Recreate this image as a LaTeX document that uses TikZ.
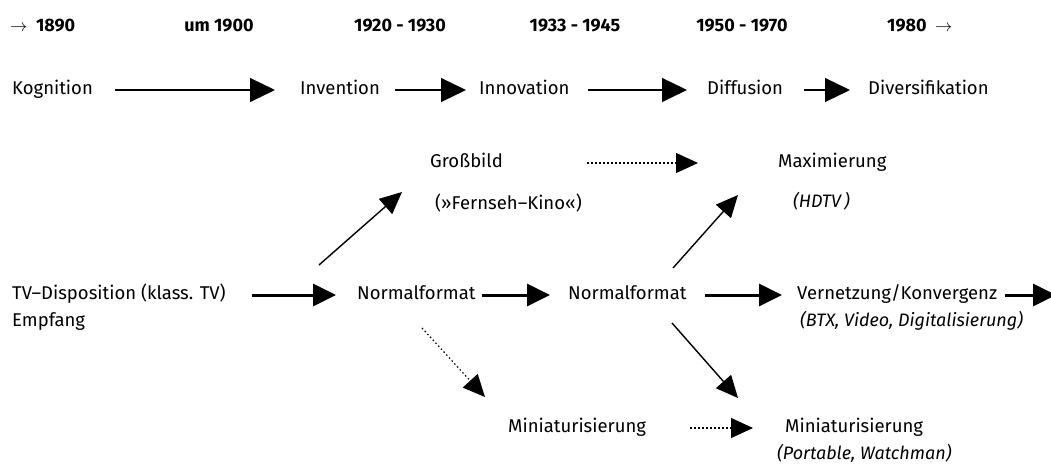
\documentclass[tikz,border=0pt]{standalone}
\usepackage{fontspec}
\setmainfont{Fira Sans}
\usetikzlibrary{arrows.meta}
\begin{document}
\begin{tikzpicture}[x=1pt,y=-1pt,
  every node/.style={inner sep=0pt, text=black},
  lbl/.style={anchor=west, font=\fontsize{18.5}{20}\selectfont, text height=13pt, text depth=4pt},
  yr/.style={lbl, font=\fontsize{18}{20}\selectfont\bfseries},
  note/.style={lbl, font=\fontsize{18}{20}\selectfont\itshape},
  thinarr/.style={-{Triangle[length=25pt,width=24pt]}, line width=1.1pt, black},
  thickarr/.style={-{Triangle[length=23pt,width=22pt]}, line width=3pt, black},
  dotarr/.style={-{Triangle[length=22pt,width=20pt]}, line width=1.2pt, dash pattern=on 1.5pt off 2.5pt, black},
  diag/.style={-{Triangle[length=22pt,width=20pt]}, line width=1.4pt, black}
]
\clip (0,0) rectangle (1051,468);
\fill[white] (0,0) rectangle (1051,468);

% years
\node[yr] (y1) at (10,27) {$\rightarrow$\ \ 1890};
\node[yr, anchor=center] (y2) at (219,27) {um 1900};
\node[yr, anchor=center] (y3) at (400,27) {1920 - 1930};
\node[yr, anchor=center] (y4) at (575,27) {1933 - 1945};
\node[yr, anchor=center] (y5) at (742,27) {1950 - 1970};
\node[yr] (y6) at (887,27) {1980\ \ $\rightarrow$};

% phases
\node[lbl] (kog) at (12,90) {Kognition};
\node[lbl] (inv) at (300,90) {Invention};
\node[lbl] (inn) at (479,90) {Innovation};
\node[lbl] (dif) at (707,90) {Diffusion};
\node[lbl] (div) at (868,90) {Diversifikation};
\draw[thinarr, shorten <=22pt, shorten >=25pt] (kog.east) -- (inv.west);
\draw[thinarr, shorten <=15pt, shorten >=13pt] (inv.east) -- (inn.west);
\draw[thinarr, shorten <=18pt, shorten >=20pt] (inn.east) -- (dif.west);
\draw[thinarr, shorten <=21pt, shorten >=18pt] (dif.east) -- (div.west);

% upper branch
\node[lbl] (gb) at (430,163) {Großbild};
\node[lbl] (fk) at (435,205) {(»Fernseh–Kino«)};
\node[lbl] (max) at (778,163) {Maximierung};
\node[note] (hdtv) at (793,203) {(HDTV\,)};
\draw[dotarr, shorten <=84pt, shorten >=80pt] (gb.east) -- (max.west);

% main row
\node[lbl] (tv) at (12,295) {TV–Disposition (klass. TV)};
\node[lbl] (emp) at (12,322) {Empfang};
\node[lbl] (nf1) at (357,295) {Normalformat};
\node[lbl] (nf2) at (568,295) {Normalformat};
\node[lbl] (ver) at (797,295) {Vernetzung/Konvergenz};
\node[note] (btx) at (800,322) {(BTX, Video, Digitalisierung)};
\coordinate (out) at (1056,295);
\draw[thickarr, shorten <=26pt, shorten >=21pt] (tv.east) -- (nf1.west);
\draw[thickarr, shorten <=6pt, shorten >=18pt] (nf1.east) -- (nf2.west);
\draw[thickarr, shorten <=18pt, shorten >=15pt] (nf2.east) -- (ver.west);
\draw[thickarr, shorten <=8pt] (ver.east) -- (out);

% lower branch
\node[lbl] (mi1) at (508,428) {Miniaturisierung};
\node[lbl] (mi2) at (785,428) {Miniaturisierung};
\node[note] (pw) at (777,455) {(Portable, Watchman)};
\draw[dotarr, shorten <=44pt, shorten >=32pt] (mi1.east) -- (mi2.west);

% diagonals
\coordinate (d1s) at (319,265); \coordinate (d1e) at (402,192);
\coordinate (d2s) at (673,268); \coordinate (d2e) at (738,195);
\coordinate (d3s) at (422,328); \coordinate (d3e) at (485,397);
\coordinate (d4s) at (672,323); \coordinate (d4e) at (738,398);
\draw[diag] (d1s) -- (d1e);
\draw[diag] (d2s) -- (d2e);
\draw[dotarr] (d3s) -- (d3e);
\draw[diag] (d4s) -- (d4e);
\end{tikzpicture}
\end{document}
